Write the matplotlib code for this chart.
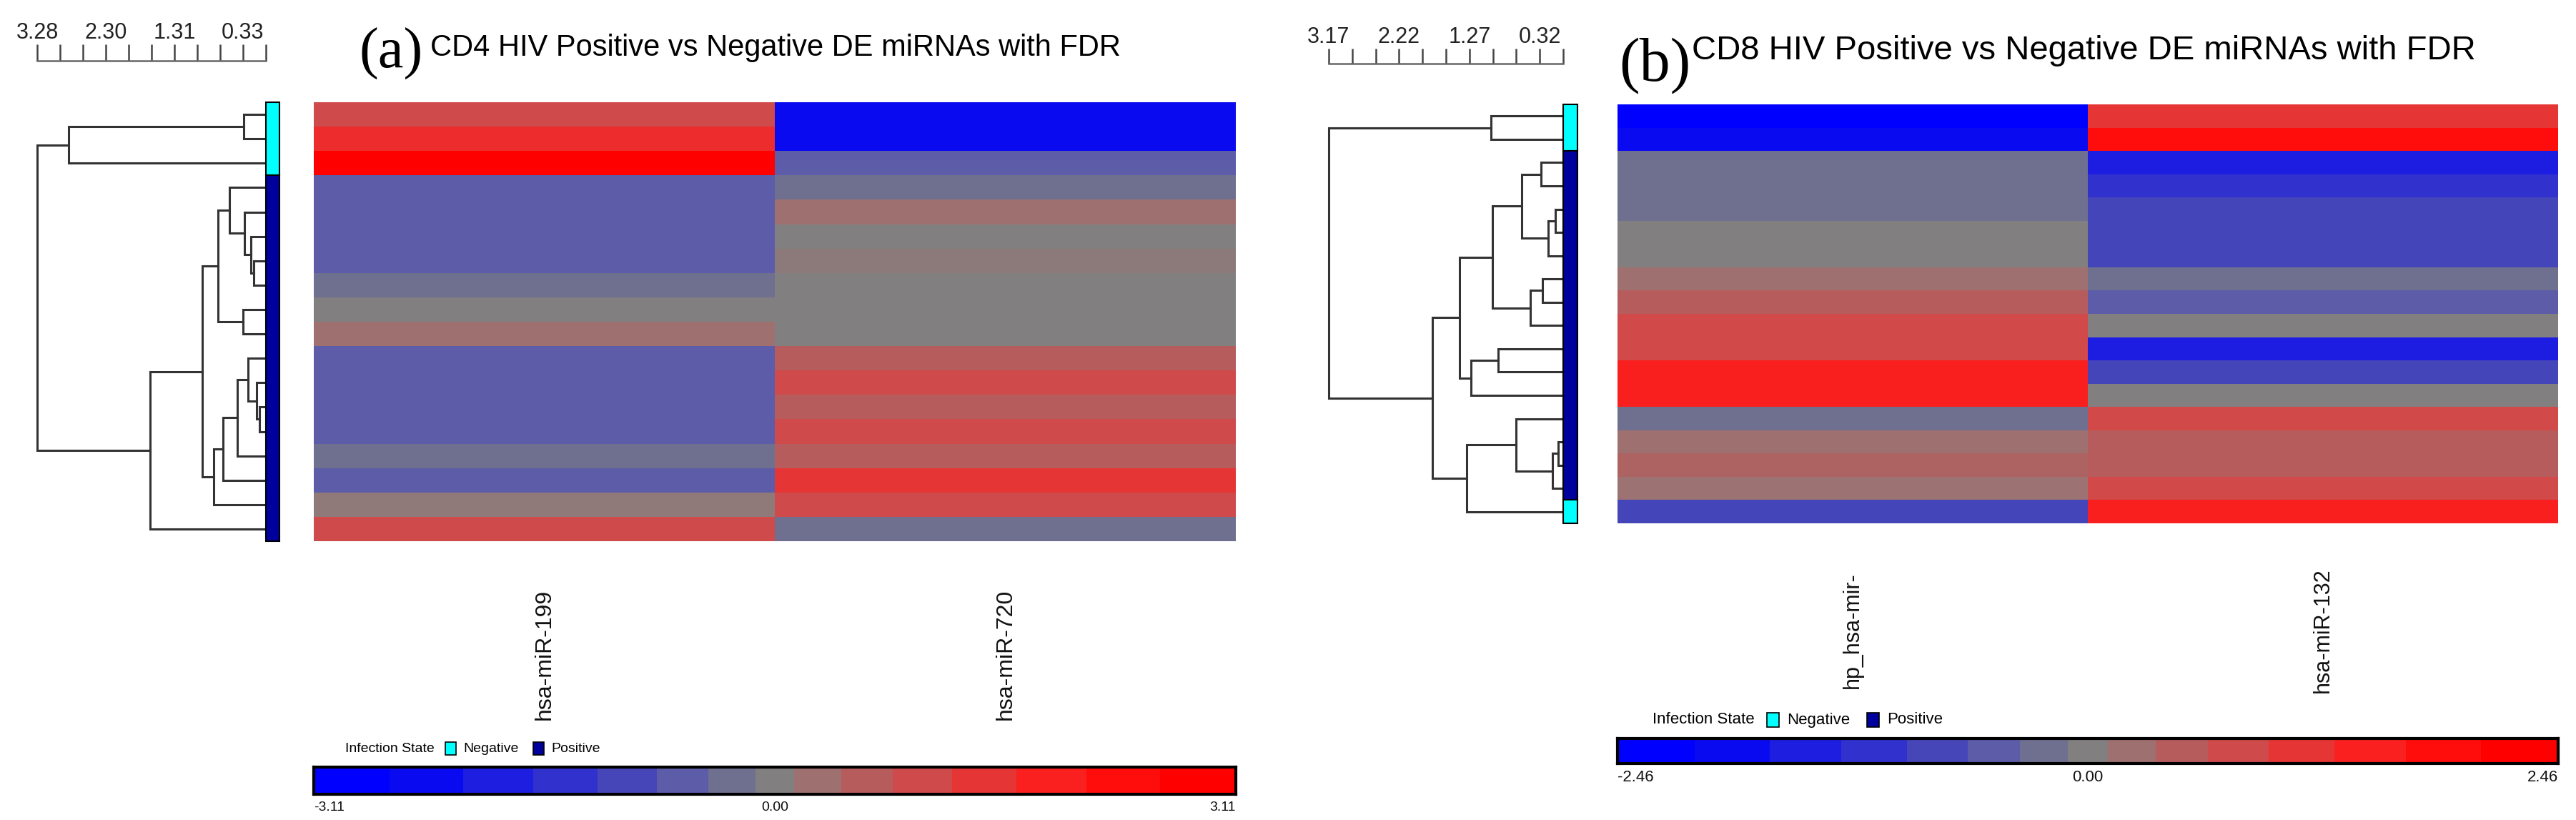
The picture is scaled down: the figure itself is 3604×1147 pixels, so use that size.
import numpy as np
import matplotlib
matplotlib.use('Agg')
import matplotlib.pyplot as plt
from matplotlib import font_manager
from matplotlib.colors import LinearSegmentedColormap, Normalize
from matplotlib.patches import Rectangle
import matplotlib.transforms as mtransforms

# ---------------- data ----------------
groups = ['Negative', 'Positive']
group_colors = ['#00ffff', '#00009c']

# panel (a) CD4
cd4_mirnas = ['hsa-miR-199', 'hsa-miR-720']
cd4_mir199 = [0.99, 1.60, 2.86, -0.62, -0.62, -0.62, -0.62, -0.29, 0.00, 0.29,
              -0.62, -0.62, -0.62, -0.62, -0.29, -0.62, 0.14, 0.99]
cd4_mir720 = [-2.35, -2.35, -0.62, -0.29, 0.29, 0.00, 0.12, 0.00, 0.00, 0.00,
              0.62, 0.99, 0.62, 0.99, 0.62, 1.41, 0.99, -0.29]
cd4_state = ['Negative'] * 3 + ['Positive'] * 15
# (left, right, height) merges, leaves 0..17 top to bottom
cd4_merges = [(0, 1, 0.314), (18, 2, 2.827), (6, 7, 0.177), (5, 20, 0.211),
              (4, 21, 0.303), (3, 22, 0.518), (8, 9, 0.324), (23, 24, 0.689),
              (12, 13, 0.092), (11, 26, 0.136), (10, 27, 0.252), (28, 14, 0.406),
              (29, 15, 0.610), (30, 16, 0.750), (25, 31, 0.917), (32, 17, 1.660),
              (19, 33, 3.28)]
cd4_tree_max = 3.28
cd4_color_max = 3.11

# panel (b) CD8
cd8_mirnas = ['hp_hsa-mir-', 'hsa-miR-132']
cd8_hp_mir = [-2.26, -1.86, -0.23, -0.23, -0.23, 0.00, 0.00, 0.23, 0.49, 0.79,
              0.79, 1.48, 1.48, -0.23, 0.23, 0.40, 0.20, -0.79]
cd8_mir132 = [1.12, 1.86, -1.48, -1.12, -0.79, -0.79, -0.79, -0.23, -0.49, 0.00,
              -1.48, -0.79, 0.00, 0.79, 0.49, 0.49, 0.79, 1.48]
cd8_state = ['Negative'] * 2 + ['Positive'] * 15 + ['Negative']
cd8_merges = [(0, 1, 0.978), (2, 3, 0.297), (4, 5, 0.103), (20, 6, 0.203),
              (19, 21, 0.565), (7, 8, 0.284), (23, 9, 0.446), (22, 24, 0.952),
              (10, 11, 0.881), (26, 12, 1.249), (25, 27, 1.405), (14, 15, 0.065),
              (29, 16, 0.145), (13, 30, 0.639), (31, 17, 1.307), (28, 32, 1.769),
              (18, 33, 3.17)]
cd8_tree_max = 3.17
cd8_color_max = 2.46

# stepped blue-grey-red palette of the colour key
key_colors = ['#0000ff', '#0a0af0', '#1e1ee0', '#3232cd', '#4646b9', '#5c5ca8',
              '#6e6e91', '#808080', '#a07070', '#b65c5c', '#d04a4a', '#e43636',
              '#fa2020', '#ff0c0c', '#ff0000']
key_edges = [0, .082, .162, .238, .308, .372, .428, .479, .521, .572, .628,
             .692, .762, .838, .918, 1]

# ---------------- fonts ----------------
def has_font(name):
    try:
        font_manager.findfont(font_manager.FontProperties(family=name),
                              fallback_to_default=False)
        return True
    except ValueError:
        return False

SANS = 'Liberation Sans'
NARROW = 'Liberation Sans Narrow' if has_font('Liberation Sans Narrow') else SANS
SERIF = 'Liberation Serif'

W, H = 3604, 1147
fig = plt.figure(figsize=(W / 100, H / 100), dpi=100)

mids = [(a + b) / 2 for a, b in zip(key_edges[:-1], key_edges[1:])]
cmap = LinearSegmentedColormap.from_list(
    'key', [(0, key_colors[0])] + list(zip(mids, key_colors)) + [(1, key_colors[-1])])


def px_axes(x0, y0, x1, y1):
    return fig.add_axes([x0 / W, 1 - y1 / H, (x1 - x0) / W, (y1 - y0) / H])


def fig_rect(x0, y0, x1, y1, color):
    fig.add_artist(Rectangle((x0 / W, 1 - y1 / H), (x1 - x0) / W, (y1 - y0) / H,
                             transform=fig.transFigure, facecolor=color,
                             edgecolor='black', lw=1.2))


def draw_panel(L, mirnas, cols, state, merges, tree_max, color_max, title, tag):
    n = len(state)
    top, bot = L['heat_y']

    # scale bar of the tree
    ax = px_axes(L['tree_x'][0], L['scale_y'][0], L['tree_x'][1], L['scale_y'][1])
    ax.set_xlim(tree_max, 0)
    ax.set_ylim(0, 1)
    ax.set_yticks([])
    for s in ['top', 'left', 'right']:
        ax.spines[s].set_visible(False)
    ax.spines['bottom'].set_color('#666')
    ax.spines['bottom'].set_linewidth(1.8)
    ticks = np.linspace(tree_max, 0, 11)
    ax.set_xticks(ticks[[0, 3, 6, 9]])
    ax.set_xticklabels(['%.2f' % t for t in ticks[[0, 3, 6, 9]]],
                       fontfamily=SANS, fontsize=L['scale_fs'], color='#222')
    ax.set_xticks(ticks, minor=True)
    ax.tick_params(axis='x', which='both', direction='in',
                   length=(L['scale_y'][1] - L['scale_y'][0]) * 0.72,
                   width=1.8, color='#444', bottom=True, top=False,
                   labelbottom=False, labeltop=True, pad=1)

    # dendrogram
    ax = px_axes(L['tree_x'][0], top, L['tree_x'][1], bot)
    pos = {i: i + 0.5 for i in range(n)}
    hgt = {i: 0.0 for i in range(n)}
    for k, (a, b, h) in enumerate(merges):
        ax.plot([hgt[a], h, h, hgt[b]], [pos[a], pos[a], pos[b], pos[b]],
                color='#333', lw=2.2, clip_on=False, solid_joinstyle='miter')
        pos[n + k] = (pos[a] + pos[b]) / 2
        hgt[n + k] = h
    ax.set_xlim(tree_max, 0)
    ax.set_ylim(n, 0)
    ax.axis('off')

    # infection state strip
    ax = px_axes(L['ann_x'][0], top, L['ann_x'][1], bot)
    start = 0
    for i in range(1, n + 1):
        if i == n or state[i] != state[start]:
            ax.bar(0.5, i - start, bottom=start, width=1,
                   color=group_colors[groups.index(state[start])],
                   edgecolor='black', lw=1.5, clip_on=False)
            start = i
    ax.set_xlim(0, 1)
    ax.set_ylim(n, 0)
    ax.axis('off')

    # heatmap
    norm = Normalize(-color_max, color_max)
    ax = px_axes(L['heat_x'][0], top, L['heat_x'][1], bot)
    data = np.column_stack(cols)
    ax.pcolormesh(np.arange(data.shape[1] + 1), np.arange(n + 1), data,
                  cmap=cmap, norm=norm)
    ax.set_xlim(0, data.shape[1])
    ax.set_ylim(n, 0)
    ax.axis('off')
    tr = mtransforms.blended_transform_factory(ax.transData, fig.transFigure)
    for j, name in enumerate(mirnas):
        ax.text(j + 0.5, 1 - L['label_y'] / H, name, rotation=90, ha='center',
                va='center', transform=tr, fontfamily=SANS,
                fontsize=L['label_fs'], color='#111')

    # legend
    lx, ly = L['legend']
    fs = L['legend_fs']
    sc = L['legend_scale']
    fig.text(lx / W, 1 - ly / H, 'Infection State', ha='left', va='center',
             fontfamily=NARROW, fontsize=fs)
    x = lx + 140 * sc
    for g, c in zip(groups, group_colors):
        fig_rect(x, ly - 9 * sc, x + 15 * sc, ly + 9 * sc, c)
        fig.text((x + 25 * sc) / W, 1 - ly / H, g, ha='left', va='center',
                 fontfamily=NARROW, fontsize=fs)
        x += 123 * sc

    # colour key
    ax = px_axes(L['heat_x'][0], L['key_y'][0], L['heat_x'][1], L['key_y'][1])
    edges = (2 * np.array(key_edges) - 1) * color_max
    vals = (2 * np.array(mids) - 1) * color_max
    ax.pcolormesh(edges, [0, 1], vals[None, :], cmap=cmap, norm=norm)
    ax.set_xlim(-color_max, color_max)
    ax.set_ylim(0, 1)
    ax.set_xticks([])
    ax.set_yticks([])
    for s in ax.spines.values():
        s.set_linewidth(3)
        s.set_color('black')
    for v, ha in [(-color_max, 'left'), (0, 'center'), (color_max, 'right')]:
        ax.text(v, -0.25, '%.2f' % v, ha=ha, va='top', fontfamily=NARROW,
                fontsize=L['key_fs'], color='#111')

    # titles
    fig.text(L['tag_x'] / W, 1 - L['tag_base'] / H, tag, ha='left', va='baseline',
             fontfamily=SERIF, fontsize=L['tag_fs'])
    fig.text(L['title_x'] / W, 1 - L['title_base'] / H, title, ha='left',
             va='baseline', fontfamily=L['title_font'], fontsize=L['title_fs'])


layout_a = dict(scale_y=(62, 85), tree_x=(52, 372), ann_x=(372, 391),
                heat_x=(439, 1729), heat_y=(143, 757), label_y=915, label_fs=23,
                legend=(483, 1047), legend_fs=14, legend_scale=1.0,
                key_y=(1073, 1111), key_fs=14, scale_fs=22,
                tag_x=503, tag_base=95, tag_fs=58,
                title_x=602, title_base=78,
                title_font=NARROW, title_fs=36 if NARROW != SANS else 30)
layout_b = dict(scale_y=(68, 89), tree_x=(1859, 2187), ann_x=(2187, 2207),
                heat_x=(2263, 3579), heat_y=(146, 732), label_y=882, label_fs=22,
                legend=(2312, 1007), legend_fs=16, legend_scale=1.14,
                key_y=(1033, 1068), key_fs=16, scale_fs=22,
                tag_x=2265, tag_base=112, tag_fs=62,
                title_x=2367, title_base=83, title_font=SANS, title_fs=34)

draw_panel(layout_a, cd4_mirnas, [cd4_mir199, cd4_mir720], cd4_state, cd4_merges,
           cd4_tree_max, cd4_color_max,
           'CD4 HIV Positive vs Negative DE miRNAs with FDR', '(a)')
draw_panel(layout_b, cd8_mirnas, [cd8_hp_mir, cd8_mir132], cd8_state, cd8_merges,
           cd8_tree_max, cd8_color_max,
           'CD8 HIV Positive vs Negative DE miRNAs with FDR', '(b)')

fig.savefig('out.png', dpi=100, facecolor='white')
